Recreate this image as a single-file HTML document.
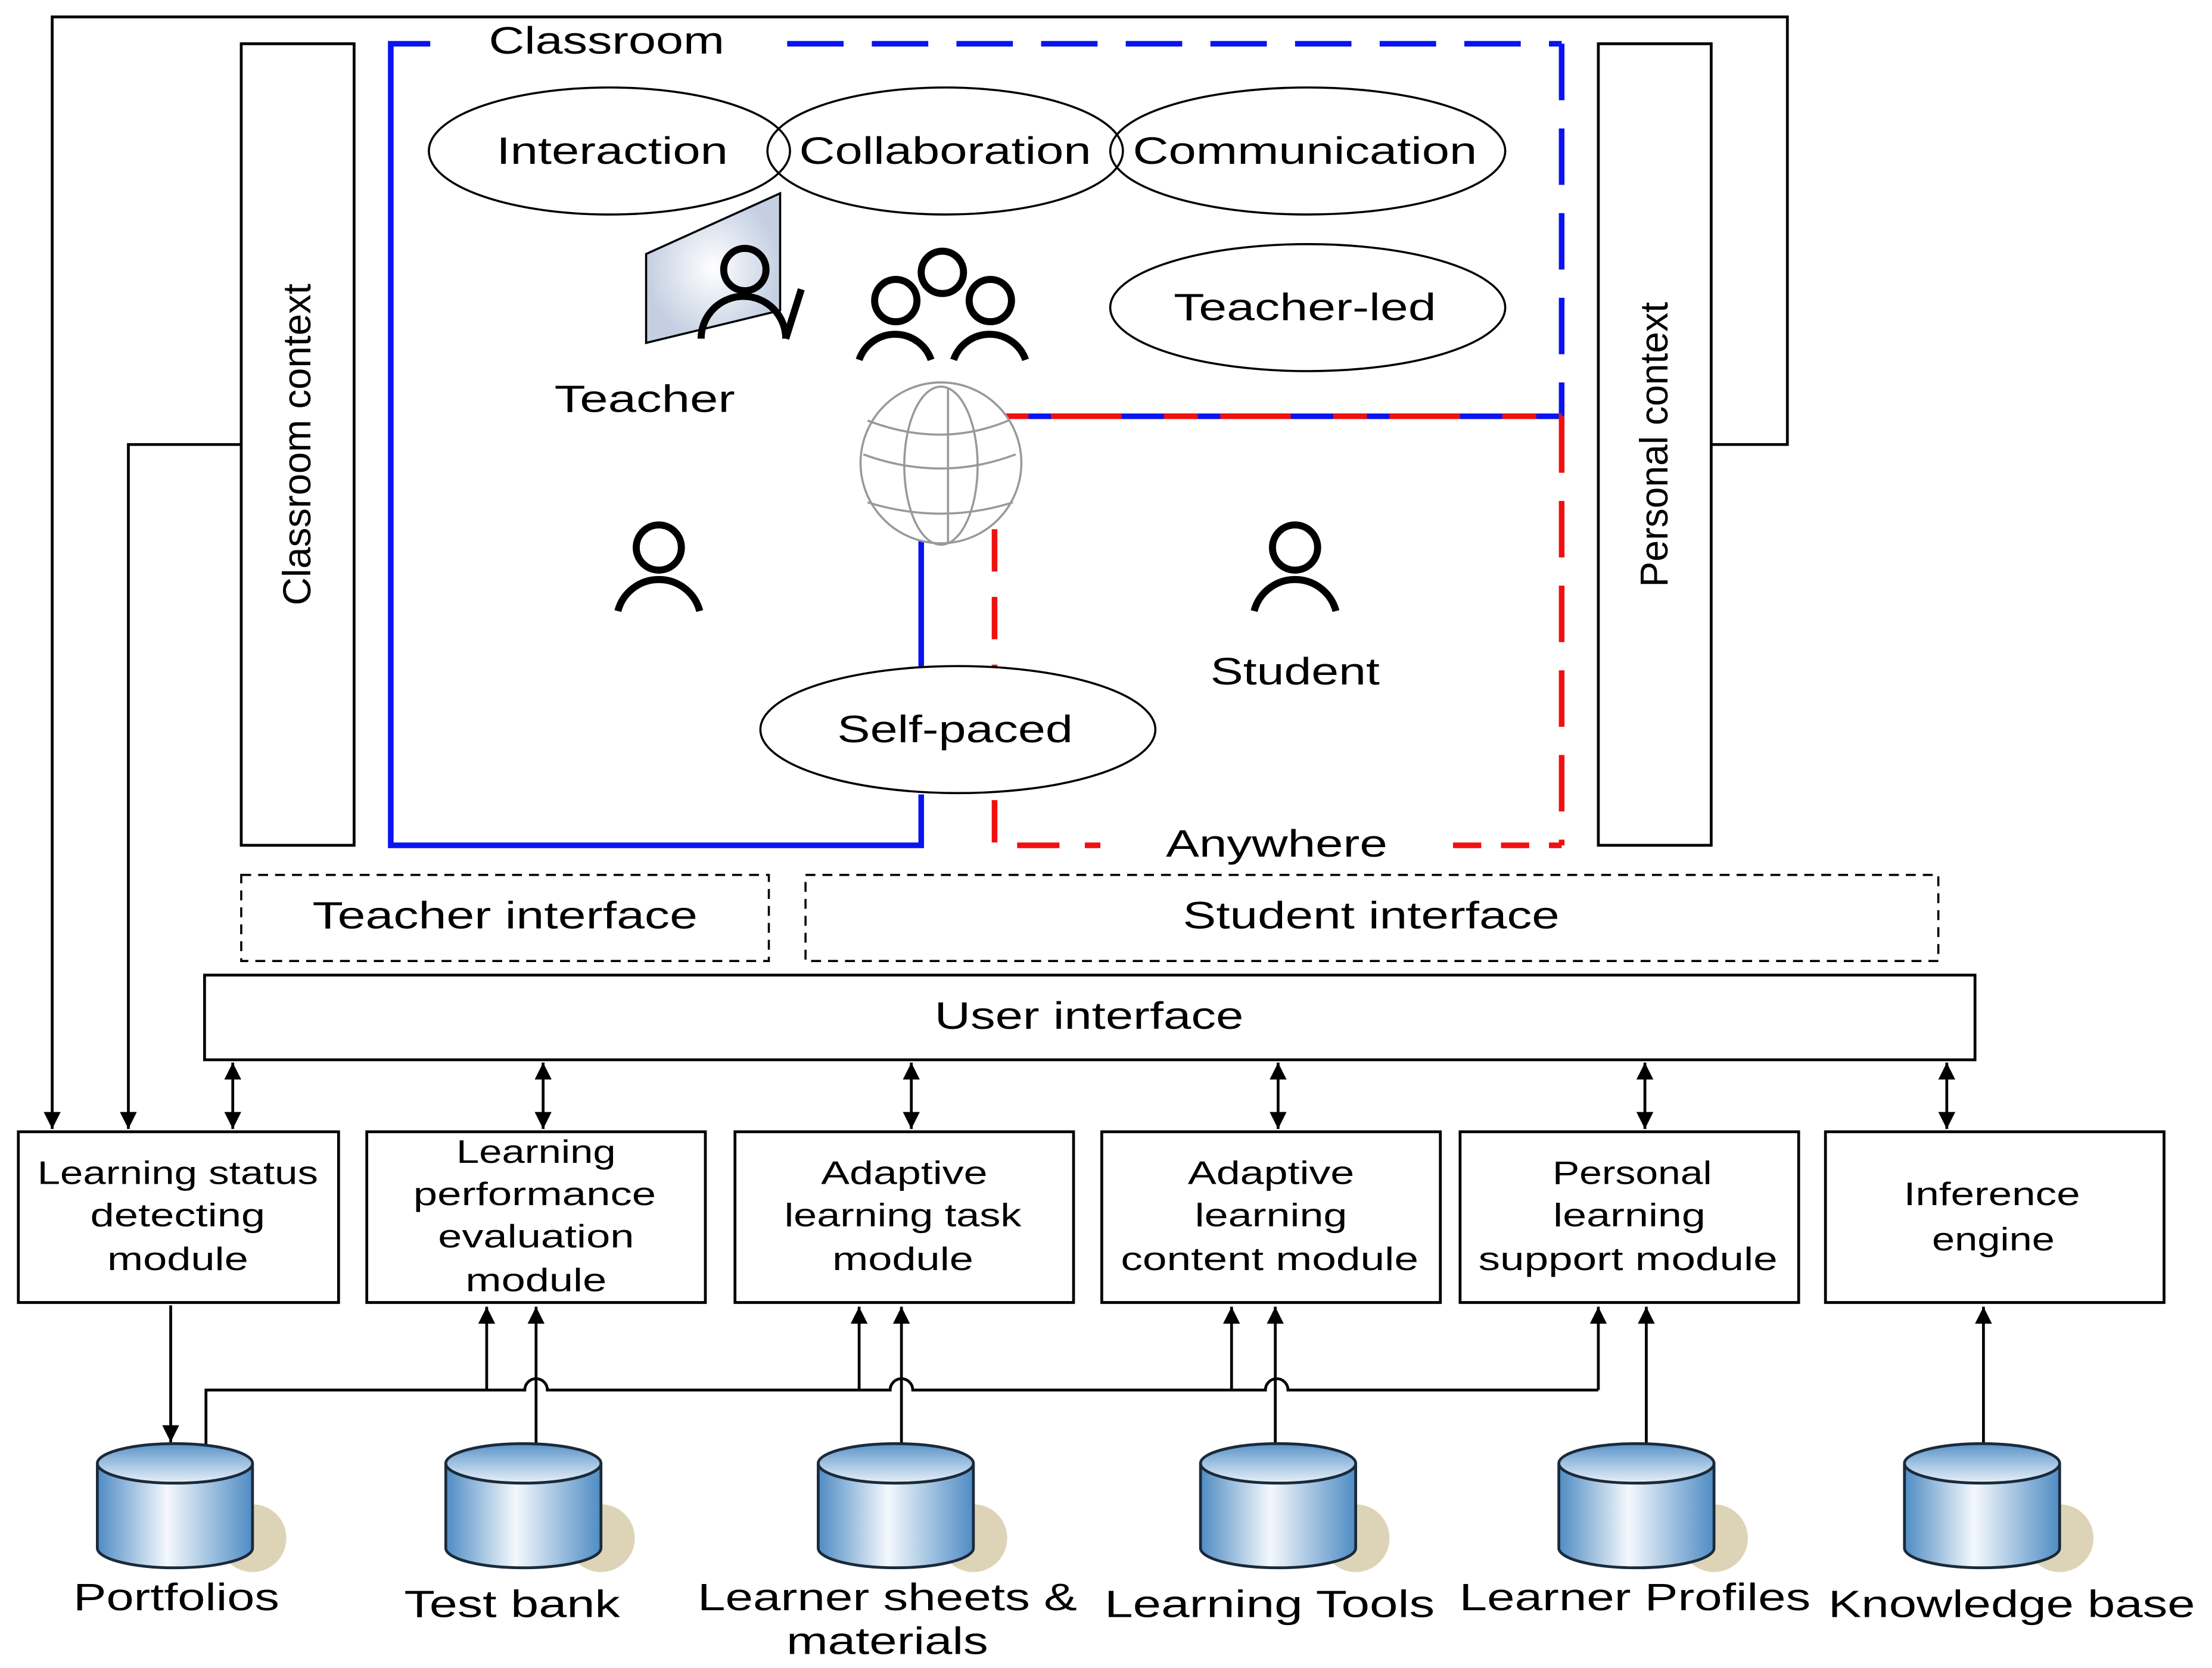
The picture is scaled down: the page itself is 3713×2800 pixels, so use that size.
<!DOCTYPE html>
<html><head><meta charset="utf-8"><style>html,body{margin:0;padding:0;background:#fff}svg{display:block}</style></head><body>
<svg width="3713" height="2800" viewBox="0 0 1568 1182" preserveAspectRatio="none" xmlns="http://www.w3.org/2000/svg" font-family="Liberation Sans, sans-serif">
<defs>
<marker id="b" viewBox="0 0 10 10" refX="10" refY="5" markerWidth="18" markerHeight="12" orient="auto-start-reverse" markerUnits="userSpaceOnUse"><path d="M0,0L10,5L0,10z" fill="#000"/></marker>
<linearGradient id="cyl" x1="0" x2="1"><stop offset="0" stop-color="#4f8cc4"/><stop offset="0.45" stop-color="#f4f8fc"/><stop offset="1" stop-color="#4f8cc4"/></linearGradient>
<linearGradient id="cylt" x1="0" y1="0" x2="0" y2="1"><stop offset="0" stop-color="#5a93c8"/><stop offset="1" stop-color="#e8f0f8"/></linearGradient>
<radialGradient id="brd"><stop offset="0" stop-color="#fff"/><stop offset="1" stop-color="#c4cfe2"/></radialGradient>
</defs>
<g fill="none" stroke="#000" stroke-width="2">
<polyline points="1213,315 1267,315 1267,12 37,12 37,800" marker-end="url(#b)"/>
<polyline points="171,315 91,315 91,800" marker-end="url(#b)"/>
<rect x="171" y="31" width="80" height="568"/>
<rect x="1133" y="31" width="80" height="568"/>
</g>
<text transform="translate(220,315) rotate(-90)" font-size="28" text-anchor="middle" textLength="228" lengthAdjust="spacingAndGlyphs">Classroom context</text>
<text transform="translate(1182,315) rotate(-90)" font-size="28" text-anchor="middle" textLength="202" lengthAdjust="spacingAndGlyphs">Personal context</text>
<g fill="none" stroke="#0a14f0" stroke-width="4">
<polyline points="305,31 277,31 277,599 653,599 653,563"/>
<line x1="653" y1="375" x2="653" y2="475"/>
<line x1="558" y1="31" x2="1107" y2="31" stroke-dasharray="40,20"/>
<line x1="1107" y1="31" x2="1107" y2="295" stroke-dasharray="40,20"/>
<line x1="705" y1="295" x2="1107" y2="295"/>
</g>
<g fill="none" stroke="#f01010" stroke-width="4">
<line x1="705" y1="295" x2="1107" y2="295" stroke-dasharray="24,16,50,30"/>
<line x1="1107" y1="295" x2="1107" y2="599" stroke-dasharray="40,20"/>
<polyline points="705,375 705,599 780,599" stroke-dasharray="30,18"/>
<line x1="1030" y1="599" x2="1107" y2="599" stroke-dasharray="20,14"/>
</g>
<g font-size="27" text-anchor="middle" lengthAdjust="spacingAndGlyphs">
<text x="430" y="38" textLength="167" lengthAdjust="spacingAndGlyphs">Classroom</text>
<text x="905" y="607" textLength="157" lengthAdjust="spacingAndGlyphs">Anywhere</text>
</g>
<g fill="none" stroke="#000" stroke-width="1.5">
<ellipse cx="432" cy="107" rx="128" ry="45"/>
<ellipse cx="670" cy="107" rx="126" ry="45"/>
<ellipse cx="927" cy="107" rx="140" ry="45"/>
<ellipse cx="927" cy="218" rx="140" ry="45"/>
<ellipse cx="679" cy="517" rx="140" ry="45" fill="#fff"/>
</g>
<g font-size="27" text-anchor="middle">
<text x="434" y="116" textLength="164" lengthAdjust="spacingAndGlyphs">Interaction</text>
<text x="670" y="116" textLength="207" lengthAdjust="spacingAndGlyphs">Collaboration</text>
<text x="925" y="116" textLength="244" lengthAdjust="spacingAndGlyphs">Communication</text>
<text x="925" y="227" textLength="186" lengthAdjust="spacingAndGlyphs">Teacher-led</text>
<text x="677" y="526" textLength="167" lengthAdjust="spacingAndGlyphs">Self-paced</text>
<text x="457" y="292" textLength="128" lengthAdjust="spacingAndGlyphs">Teacher</text>
<text x="918" y="485" textLength="120" lengthAdjust="spacingAndGlyphs">Student</text>
</g>
<polygon points="458,180 553,137 553,220 458,243" fill="url(#brd)" stroke="#000" stroke-width="1.5"/>
<g fill="none" stroke="#000" stroke-width="5">
<circle cx="528" cy="191" r="15"/>
<path d="M497,240 A30,30 0 0 1 557,240"/><path d="M557,240 L568,205"/>
<circle cx="668" cy="193" r="15"/>
<circle cx="635" cy="213" r="15"/><circle cx="702" cy="213" r="15"/>
<path d="M609,255 A27,27 0 0 1 660,255"/><path d="M676,255 A27,27 0 0 1 727,255"/>
<circle cx="467" cy="388" r="16"/><path d="M438,433 A30,30 0 0 1 496,433"/>
<circle cx="918" cy="388" r="16"/><path d="M889,433 A30,30 0 0 1 947,433"/>
</g>
<g fill="none" stroke="#999" stroke-width="1.5">
<circle cx="667" cy="328" r="57" fill="#fff"/>
<path d="M615,298 Q667,318 715,298"/>
<path d="M612,322 Q667,342 720,322"/>
<path d="M615,356 Q667,372 718,356"/>
<ellipse cx="667" cy="330" rx="26" ry="56"/>
<line x1="672" y1="275" x2="672" y2="385"/>
</g>
<g fill="none" stroke="#000" stroke-width="1.5">
<rect x="171" y="620" width="374" height="61" stroke-dasharray="7,5"/>
<rect x="571" y="620" width="803" height="61" stroke-dasharray="7,5"/>
<rect x="145" y="691" width="1255" height="60" stroke-width="2"/>
</g>
<g font-size="27" text-anchor="middle">
<text x="358" y="658" textLength="273" lengthAdjust="spacingAndGlyphs">Teacher interface</text>
<text x="972" y="658" textLength="267" lengthAdjust="spacingAndGlyphs">Student interface</text>
<text x="772" y="729" textLength="219" lengthAdjust="spacingAndGlyphs">User interface</text>
</g>
<g stroke="#000" stroke-width="2">
<line x1="165" y1="753" x2="165" y2="800" marker-start="url(#b)" marker-end="url(#b)"/>
<line x1="385" y1="753" x2="385" y2="800" marker-start="url(#b)" marker-end="url(#b)"/>
<line x1="646" y1="753" x2="646" y2="800" marker-start="url(#b)" marker-end="url(#b)"/>
<line x1="906" y1="753" x2="906" y2="800" marker-start="url(#b)" marker-end="url(#b)"/>
<line x1="1166" y1="753" x2="1166" y2="800" marker-start="url(#b)" marker-end="url(#b)"/>
<line x1="1380" y1="753" x2="1380" y2="800" marker-start="url(#b)" marker-end="url(#b)"/>
</g>
<g fill="none" stroke="#000" stroke-width="2">
<rect x="13" y="802" width="227" height="121"/>
<rect x="260" y="802" width="240" height="121"/>
<rect x="521" y="802" width="240" height="121"/>
<rect x="781" y="802" width="240" height="121"/>
<rect x="1035" y="802" width="240" height="121"/>
<rect x="1294" y="802" width="240" height="121"/>
</g>
<g font-size="23" text-anchor="middle">
<text x="126" y="839" textLength="199" lengthAdjust="spacingAndGlyphs">Learning status</text><text x="126" y="869" textLength="124" lengthAdjust="spacingAndGlyphs">detecting</text><text x="126" y="900" textLength="100" lengthAdjust="spacingAndGlyphs">module</text>
<text x="380" y="824" textLength="113" lengthAdjust="spacingAndGlyphs">Learning</text><text x="379" y="854" textLength="172" lengthAdjust="spacingAndGlyphs">performance</text><text x="380" y="884" textLength="139" lengthAdjust="spacingAndGlyphs">evaluation</text><text x="380" y="915" textLength="100" lengthAdjust="spacingAndGlyphs">module</text>
<text x="641" y="839" textLength="118" lengthAdjust="spacingAndGlyphs">Adaptive</text><text x="640" y="869" textLength="168" lengthAdjust="spacingAndGlyphs">learning task</text><text x="640" y="900" textLength="100" lengthAdjust="spacingAndGlyphs">module</text>
<text x="901" y="839" textLength="118" lengthAdjust="spacingAndGlyphs">Adaptive</text><text x="901" y="869" textLength="108" lengthAdjust="spacingAndGlyphs">learning</text><text x="900" y="900" textLength="211" lengthAdjust="spacingAndGlyphs">content module</text>
<text x="1157" y="839" textLength="113" lengthAdjust="spacingAndGlyphs">Personal</text><text x="1155" y="869" textLength="108" lengthAdjust="spacingAndGlyphs">learning</text><text x="1154" y="900" textLength="212" lengthAdjust="spacingAndGlyphs">support module</text>
<text x="1412" y="854" textLength="125" lengthAdjust="spacingAndGlyphs">Inference</text><text x="1413" y="886" textLength="87" lengthAdjust="spacingAndGlyphs">engine</text>
</g>
<g fill="none" stroke="#000" stroke-width="2">
<line x1="121" y1="925" x2="121" y2="1022" marker-end="url(#b)"/>
<path d="M146,1025 V985 H372 A8,8 0 0 1 388,985 H631 A8,8 0 0 1 647,985 H897 A8,8 0 0 1 913,985 H1133"/>
<line x1="345" y1="985" x2="345" y2="926" marker-end="url(#b)"/>
<line x1="609" y1="985" x2="609" y2="926" marker-end="url(#b)"/>
<line x1="873" y1="985" x2="873" y2="926" marker-end="url(#b)"/>
<line x1="1133" y1="985" x2="1133" y2="926" marker-end="url(#b)"/>
<line x1="380" y1="1025" x2="380" y2="926" marker-end="url(#b)"/>
<line x1="639" y1="1025" x2="639" y2="926" marker-end="url(#b)"/>
<line x1="904" y1="1025" x2="904" y2="926" marker-end="url(#b)"/>
<line x1="1167" y1="1025" x2="1167" y2="926" marker-end="url(#b)"/>
<line x1="1406" y1="1025" x2="1406" y2="926" marker-end="url(#b)"/>
</g>
<g stroke="#1a2a3a" stroke-width="2">
<g transform="translate(124,0)"><circle cx="55" cy="1090" r="24" fill="#ddd4b8" stroke="none"/><path d="M-55,1037 V1097 A55,14 0 0 0 55,1097 V1037" fill="url(#cyl)"/><ellipse cx="0" cy="1037" rx="55" ry="14" fill="url(#cylt)"/></g>
<g transform="translate(371,0)"><circle cx="55" cy="1090" r="24" fill="#ddd4b8" stroke="none"/><path d="M-55,1037 V1097 A55,14 0 0 0 55,1097 V1037" fill="url(#cyl)"/><ellipse cx="0" cy="1037" rx="55" ry="14" fill="url(#cylt)"/></g>
<g transform="translate(635,0)"><circle cx="55" cy="1090" r="24" fill="#ddd4b8" stroke="none"/><path d="M-55,1037 V1097 A55,14 0 0 0 55,1097 V1037" fill="url(#cyl)"/><ellipse cx="0" cy="1037" rx="55" ry="14" fill="url(#cylt)"/></g>
<g transform="translate(906,0)"><circle cx="55" cy="1090" r="24" fill="#ddd4b8" stroke="none"/><path d="M-55,1037 V1097 A55,14 0 0 0 55,1097 V1037" fill="url(#cyl)"/><ellipse cx="0" cy="1037" rx="55" ry="14" fill="url(#cylt)"/></g>
<g transform="translate(1160,0)"><circle cx="55" cy="1090" r="24" fill="#ddd4b8" stroke="none"/><path d="M-55,1037 V1097 A55,14 0 0 0 55,1097 V1037" fill="url(#cyl)"/><ellipse cx="0" cy="1037" rx="55" ry="14" fill="url(#cylt)"/></g>
<g transform="translate(1405,0)"><circle cx="55" cy="1090" r="24" fill="#ddd4b8" stroke="none"/><path d="M-55,1037 V1097 A55,14 0 0 0 55,1097 V1037" fill="url(#cyl)"/><ellipse cx="0" cy="1037" rx="55" ry="14" fill="url(#cylt)"/></g>
</g>
<g font-size="27" text-anchor="middle">
<text x="125" y="1141" textLength="146" lengthAdjust="spacingAndGlyphs">Portfolios</text>
<text x="363" y="1146" textLength="153" lengthAdjust="spacingAndGlyphs">Test bank</text>
<text x="629" y="1141" textLength="269" lengthAdjust="spacingAndGlyphs">Learner sheets &amp;</text><text x="629" y="1172" textLength="143" lengthAdjust="spacingAndGlyphs">materials</text>
<text x="900" y="1146" textLength="234" lengthAdjust="spacingAndGlyphs">Learning Tools</text>
<text x="1159" y="1141" textLength="249" lengthAdjust="spacingAndGlyphs">Learner Profiles</text>
<text x="1426" y="1146" textLength="260" lengthAdjust="spacingAndGlyphs">Knowledge base</text>
</g>
</svg>
</body></html>
